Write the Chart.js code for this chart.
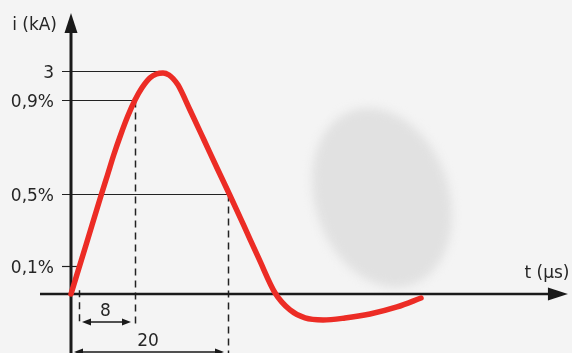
<!DOCTYPE html>
<html><head><meta charset="utf-8">
<script src="https://cdn.jsdelivr.net/npm/chart.js@4"></script>
<style>html,body{margin:0;padding:0;background:#f4f4f4;overflow:hidden}#wrap{width:572px;height:353px;position:relative}</style>
</head><body><div id="wrap"><canvas id="c"></canvas></div>
<script>
// ---- data (time in µs, current in kA) ----
const timeUs = [0, 1.911, 3.885, 4.65, 5.439, 6.318, 7.261, 8.153, 9.019, 10.038, 10.892, 11.72, 12.484, 12.994, 13.631, 15.159, 16.943, 18.599, 20.255, 22.038, 23.949, 26.0, 27.898, 29.809, 32.102, 34.904, 38.089, 41.529, 44.586];
const currentKA = [0, 0.659, 1.345, 1.601, 1.87, 2.139, 2.401, 2.61, 2.771, 2.906, 2.96, 2.973, 2.946, 2.899, 2.812, 2.475, 2.072, 1.695, 1.325, 0.915, 0.471, 0.013, -0.215, -0.323, -0.35, -0.323, -0.269, -0.175, -0.054];
const yTickValues = [3, 2.603, 1.339, 0.377];
const yTickLabels = ['3', '0,9%', '0,5%', '0,1%'];
const refLineEndUs = [11.85, 8.15, 20.0, 0.76];
const markerTimesUs = [1.02, 8.15, 20];
const spanLabels = ['8', '20'];
const spanLevelsKA = [-0.377, -0.78];
const axisLabels = ['i (kA)', 't (µs)'];

const FONT = '17px "DejaVu Sans"';
const INK = '#1a1a1a';
const TXT = '#262626';

function arrowHead(ctx, x, y, dir, len, half) {
  ctx.beginPath();
  if (dir === 'up') { ctx.moveTo(x, y); ctx.lineTo(x - half, y + len); ctx.lineTo(x + half, y + len); }
  else if (dir === 'right') { ctx.moveTo(x, y); ctx.lineTo(x - len, y - half); ctx.lineTo(x - len, y + half); }
  else { ctx.moveTo(x, y); ctx.lineTo(x + len, y - half); ctx.lineTo(x + len, y + half); }
  ctx.closePath(); ctx.fill();
}

const diagram = {
  id: 'diagram',
  beforeDraw(chart) {
    const { ctx, chartArea: a } = chart;
    ctx.save();
    ctx.fillStyle = '#f4f4f4';
    ctx.fillRect(0, 0, chart.width, chart.height);
    // soft background blob (photo reflection)
    ctx.filter = 'blur(5px)';
    ctx.fillStyle = '#e1e1e1';
    ctx.beginPath();
    ctx.ellipse(a.left + a.width * 0.668, a.top + a.height * 0.56, 67, 92, -0.33, 0, Math.PI * 2);
    ctx.fill();
    ctx.filter = 'none';
    ctx.restore();
  },
  beforeDatasetsDraw(chart) {
    const { ctx, scales: { x, y } } = chart;
    const x0 = x.getPixelForValue(0), y0 = y.getPixelForValue(0);
    ctx.save();
    // reference levels
    ctx.strokeStyle = '#222'; ctx.lineWidth = 1.2;
    yTickValues.forEach((v, i) => {
      const py = Math.round(y.getPixelForValue(v)) + 0.5;
      ctx.beginPath();
      ctx.moveTo(x0 - 9, py);
      ctx.lineTo(x.getPixelForValue(refLineEndUs[i]), py);
      ctx.stroke();
    });
    // dashed markers
    ctx.setLineDash([7, 5]); ctx.lineWidth = 1.5;
    const dash = (t, top, bottom) => {
      const px = Math.round(x.getPixelForValue(t)) + 0.5;
      ctx.beginPath(); ctx.moveTo(px, y.getPixelForValue(top)); ctx.lineTo(px, y.getPixelForValue(bottom)); ctx.stroke();
    };
    dash(markerTimesUs[0], 0.05, spanLevelsKA[0] - 0.02);
    dash(markerTimesUs[1], yTickValues[1], spanLevelsKA[0] - 0.02);
    dash(markerTimesUs[2], yTickValues[2], -0.95);
    ctx.setLineDash([]);
    // axes
    ctx.strokeStyle = INK; ctx.fillStyle = INK;
    ctx.lineWidth = 3;
    ctx.beginPath(); ctx.moveTo(x0, y.getPixelForValue(3.7)); ctx.lineTo(x0, chart.height + 2); ctx.stroke();
    arrowHead(ctx, x0, y.getPixelForValue(3.78), 'up', 20, 6.5);
    ctx.lineWidth = 2.5;
    ctx.beginPath(); ctx.moveTo(x.getPixelForValue(-3.95), y0); ctx.lineTo(x.getPixelForValue(61), y0); ctx.stroke();
    arrowHead(ctx, x.getPixelForValue(63.3), y0, 'right', 20, 6.5);
    // span arrows
    ctx.lineWidth = 1.5;
    const span = (t1, t2, lvl, label) => {
      const a = x.getPixelForValue(t1) + 3, b = x.getPixelForValue(t2) - 4, py = y.getPixelForValue(lvl);
      ctx.beginPath(); ctx.moveTo(a + 4, py); ctx.lineTo(b - 4, py); ctx.stroke();
      arrowHead(ctx, a, py, 'left', 9, 3.5);
      arrowHead(ctx, b, py, 'right', 9, 3.5);
      ctx.fillStyle = TXT; ctx.font = FONT; ctx.textAlign = 'center'; ctx.textBaseline = 'alphabetic';
      ctx.fillText(label, (a + b) / 2 - 1, py - 6);
      ctx.fillStyle = INK;
    };
    span(markerTimesUs[0], markerTimesUs[1], spanLevelsKA[0], spanLabels[0]);
    span(0, markerTimesUs[2], spanLevelsKA[1], spanLabels[1]);
    // tick labels
    ctx.fillStyle = TXT; ctx.font = FONT; ctx.textAlign = 'right'; ctx.textBaseline = 'alphabetic';
    yTickValues.forEach((v, i) => {
      ctx.fillText(yTickLabels[i], x0 - 17, y.getPixelForValue(v) + 7);
    });
    ctx.fillText(axisLabels[0], x0 - 14, y.getPixelForValue(3.55));
    ctx.fillText(axisLabels[1], x.getPixelForValue(63.5), y0 - 16);
    ctx.restore();
  }
};

new Chart(document.getElementById('c'), {
  type: 'line',
  data: {
    datasets: [{
      data: timeUs.map((t, i) => ({ x: t, y: currentKA[i] })),
      borderColor: '#ec2c25',
      borderWidth: 5.5,
      pointRadius: 0,
      cubicInterpolationMode: 'monotone',
      borderCapStyle: 'round',
      borderJoinStyle: 'round',
      clip: false
    }]
  },
  options: {
    responsive: true,
    maintainAspectRatio: false,
    animation: false,
    layout: { padding: 0 },
    plugins: { legend: { display: false }, tooltip: { enabled: false } },
    scales: {
      x: { type: 'linear', display: false, min: -9.045, max: 63.82 },
      y: { type: 'linear', display: false, min: -0.794, max: 3.955 }
    }
  },
  plugins: [diagram]
});
</script>
</body></html>
